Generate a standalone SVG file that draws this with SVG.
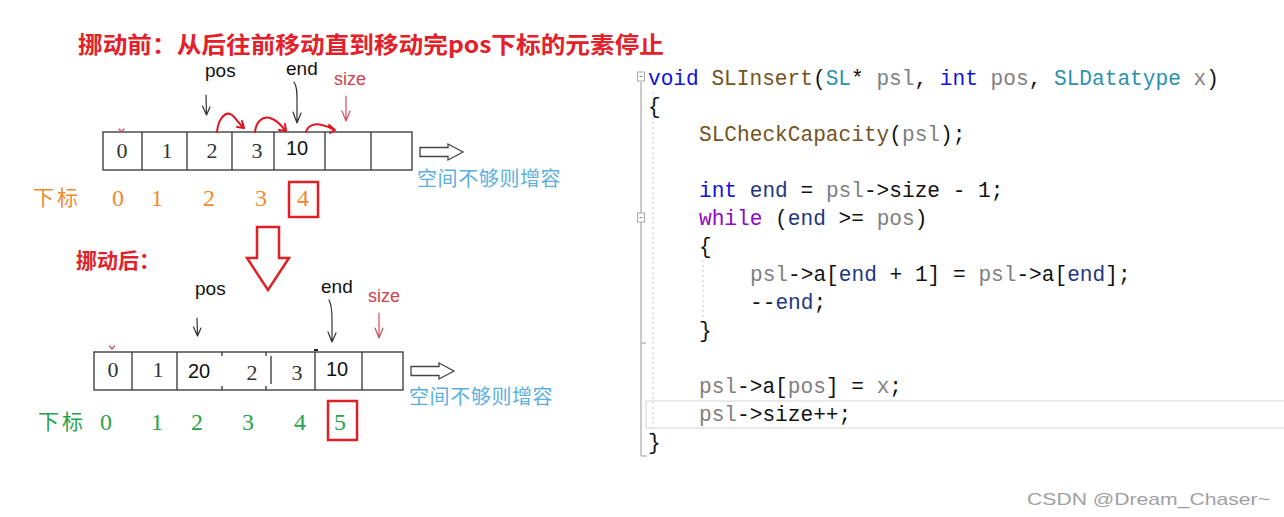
<svg xmlns="http://www.w3.org/2000/svg" width="1284" height="517" viewBox="0 0 1284 517">
<style>
.title{font-family:"Noto Sans CJK SC",sans-serif;font-weight:bold;fill:#e4202a;}
.lbl{font-family:"Liberation Sans",Arial,sans-serif;font-size:19px;fill:#111;}
.sz{font-family:"Liberation Sans",Arial,sans-serif;font-size:18px;fill:#d0404e;}
.cell{fill:#fff;stroke:#333;stroke-width:1.3;}
.div{stroke:#333;stroke-width:1.3;}
.sv{font-family:"Liberation Serif","Times New Roman",serif;font-size:22px;fill:#333;text-anchor:middle;}
.ss{font-family:"Liberation Sans",Arial,sans-serif;font-size:20px;fill:#111;text-anchor:middle;}
.idxo{font-family:"Liberation Serif",serif;font-size:24px;fill:#f08a2e;text-anchor:middle;}
.idxg{font-family:"Liberation Serif",serif;font-size:24px;fill:#27a24c;text-anchor:middle;}
.cjko{font-family:"Noto Sans CJK SC",sans-serif;font-size:21px;fill:#f08a2e;letter-spacing:3px;}
.cjkg{font-family:"Noto Sans CJK SC",sans-serif;font-size:21px;fill:#27a24c;letter-spacing:3px;}
.blue{font-family:"Noto Sans CJK SC",sans-serif;font-size:20px;fill:#5bb0e0;letter-spacing:0.6px;}
.hand{fill:none;stroke:#333;stroke-width:1.2;stroke-linecap:round;stroke-linejoin:round;}
.handr{fill:none;stroke:#d0505e;stroke-width:1.2;stroke-linecap:round;stroke-linejoin:round;}
.curve{fill:none;stroke:#e0141e;stroke-width:2;stroke-linecap:round;stroke-linejoin:round;}
.box{fill:none;stroke:#e02026;stroke-width:2.5;}
.hollow{fill:#fff;stroke:#444;stroke-width:1.3;}
.code{font-family:"Liberation Mono","DejaVu Sans Mono",monospace;font-size:21.15px;fill:#111;}
.kw{fill:#1010e0;}
.fn{fill:#74531f;}
.ty{fill:#2b91af;}
.pa{fill:#808080;}
.wh{fill:#8f08c4;}
.lv{fill:#1f377f;}
.guide{stroke:#c8c8c8;stroke-width:1;stroke-dasharray:2 3;}
</style>

<g id="title">
<text class="title" x="78" y="53" font-size="23" textLength="586" lengthAdjust="spacingAndGlyphs">挪动前：从后往前移动直到移动完pos下标的元素停止</text>
</g>

<g id="before-labels">
<text class="lbl" x="205" y="77">pos</text>
<text class="lbl" x="286" y="75">end</text>
<text class="sz" x="334" y="85">size</text>
</g>

<g id="before-array">
<rect class="cell" x="103" y="132" width="309" height="38"/>
<line class="div" x1="142" y1="132" x2="142" y2="170"/>
<line class="div" x1="187" y1="132" x2="187" y2="170"/>
<line class="div" x1="232" y1="132" x2="232" y2="170"/>
<line class="div" x1="274" y1="132" x2="274" y2="170"/>
<line class="div" x1="325" y1="132" x2="325" y2="170"/>
<line class="div" x1="371" y1="132" x2="371" y2="170"/>
<text class="sv" x="122" y="158">0</text>
<text class="sv" x="167" y="158">1</text>
<text class="sv" x="212" y="158">2</text>
<text class="sv" x="257" y="158">3</text>
<text class="ss" x="297" y="155">10</text>
<path class="handr" d="M119,129 L121.5,132 L124,129"/>
</g>

<g id="before-arrow-right">
<polygon class="hollow" points="420,147.5 448,147.5 448,144 463,152 448,160 448,156.5 420,156.5"/>
<text class="blue" x="417" y="186">空间不够则增容</text>
</g>

<g id="before-index">
<text class="cjko" x="33" y="205">下标</text>
<text class="idxo" x="118" y="206">0</text>
<text class="idxo" x="157" y="206">1</text>
<text class="idxo" x="209" y="206">2</text>
<text class="idxo" x="261" y="206">3</text>
<text class="idxo" x="303" y="206">4</text>
<rect class="box" x="289" y="182" width="29" height="35"/>
</g>

<g id="big-down-arrow">
<polygon points="257,227 279,227 279,258 289,258 268,290 247,258 257,258" fill="#fff" stroke="#e02026" stroke-width="2.5" stroke-linejoin="miter"/>
</g>

<g id="after-title">
<text class="title" x="76" y="268" font-size="21">挪动后：</text>
</g>

<g id="after-labels">
<text class="lbl" x="195" y="295">pos</text>
<text class="lbl" x="321" y="293">end</text>
<text class="sz" x="368" y="302">size</text>
</g>

<g id="after-array">
<rect class="cell" x="94" y="352" width="309" height="38"/>
<line class="div" x1="132" y1="352" x2="132" y2="390"/>
<line class="div" x1="177" y1="352" x2="177" y2="390"/>
<line class="div" x1="222" y1="352" x2="222" y2="356"/>
<line class="div" x1="222" y1="386" x2="222" y2="390"/>
<line class="div" x1="266" y1="352" x2="266" y2="356"/>
<line class="div" x1="266" y1="386" x2="266" y2="390"/>
<line class="div" x1="271" y1="356" x2="271" y2="384"/>
<line class="div" x1="315" y1="352" x2="315" y2="390"/>
<line x1="314" y1="350" x2="318" y2="350" stroke="#222" stroke-width="2"/>
<line class="div" x1="362" y1="352" x2="362" y2="390"/>
<text class="sv" x="113" y="377">0</text>
<text class="sv" x="158" y="377">1</text>
<text class="ss" x="199" y="378">20</text>
<text class="sv" x="252" y="380">2</text>
<text class="sv" x="297" y="380">3</text>
<text class="ss" x="337" y="376">10</text>
<path class="handr" d="M109.5,346 L112,349 L114.5,346"/>
</g>

<g id="after-arrow-right">
<polygon class="hollow" points="411,366.5 439,366.5 439,363 454,371 439,379 439,375.5 411,375.5"/>
<text class="blue" x="409" y="404">空间不够则增容</text>
</g>

<g id="after-index">
<text class="cjkg" x="38" y="429">下标</text>
<text class="idxg" x="106" y="430">0</text>
<text class="idxg" x="157" y="430">1</text>
<text class="idxg" x="197" y="430">2</text>
<text class="idxg" x="248" y="430">3</text>
<text class="idxg" x="300" y="430">4</text>
<text class="idxg" x="340" y="430">5</text>
<rect class="box" x="328" y="401" width="29" height="39"/>
</g>

<g id="connectors">
<path class="hand" d="M206,95 L206.5,115 M202.5,106 L206.5,115 L210,107"/>
<path class="hand" d="M294,82 C297,86 297,92 297,100 L297,123 M293,112 L297,123 L301,113"/>
<path class="handr" d="M346,96 L346,121 M342,111 L346,121 L350,111"/>
<path class="curve" d="M217,132 C218,120 225,110 232,115 C236,118 238,123 243,127 M237,127 L244,128 L242,121"/>
<path class="curve" d="M255,132 C256,122 262,116 270,118 C277,120 281,125 285,130 M279,130 L286,131 L285,124"/>
<path class="curve" d="M306,132 C308,125 315,123 322,125 C327,126 331,128 334,130 M329,125 L335,130 L330,133"/>
<path class="hand" d="M197,318 L197.5,336 M193.5,327 L197.5,336 L201,328"/>
<path class="hand" d="M329,300 C332,305 332,312 332,320 L332,342 M328,332 L332,342 L336,333"/>
<path class="handr" d="M379,313 L379,338 M375,328 L379,338 L383,328"/>
</g>

<g id="code">
<line x1="641" y1="82" x2="641" y2="456" stroke="#a8a8a8" stroke-width="1.2"/>
<line x1="641" y1="456" x2="647" y2="456" stroke="#a8a8a8" stroke-width="1.2"/>
<line x1="641" y1="343" x2="646" y2="343" stroke="#a8a8a8" stroke-width="1.2"/>
<rect x="637.5" y="72" width="7" height="9" fill="#fff" stroke="#a8a8a8" stroke-width="1"/>
<line x1="639.5" y1="76.5" x2="642.5" y2="76.5" stroke="#888" stroke-width="1"/>
<rect x="637.5" y="213" width="7" height="9" fill="#fff" stroke="#a8a8a8" stroke-width="1"/>
<line x1="639.5" y1="217.5" x2="642.5" y2="217.5" stroke="#888" stroke-width="1"/>
<line class="guide" x1="653" y1="92" x2="653" y2="440"/>
<line class="guide" x1="703" y1="260" x2="703" y2="318"/>
<rect x="646" y="401" width="640" height="27" fill="none" stroke="#e2e2e2" stroke-width="1.5"/>
<text class="code" x="648" y="85"><tspan class="kw">void</tspan> <tspan class="fn">SLInsert</tspan>(<tspan class="ty">SL</tspan>* <tspan class="pa">psl</tspan>, <tspan class="kw">int</tspan> <tspan class="pa">pos</tspan>, <tspan class="ty">SLDatatype</tspan> <tspan class="pa">x</tspan>)</text>
<text class="code" x="648" y="113">{</text>
<text class="code" x="699" y="141"><tspan class="fn">SLCheckCapacity</tspan>(<tspan class="pa">psl</tspan>);</text>
<text class="code" x="699" y="197"><tspan class="kw">int</tspan> <tspan class="lv">end</tspan> = <tspan class="pa">psl</tspan>-&gt;size - 1;</text>
<text class="code" x="699" y="225"><tspan class="wh">while</tspan> (<tspan class="lv">end</tspan> &gt;= <tspan class="pa">pos</tspan>)</text>
<text class="code" x="699" y="253">{</text>
<text class="code" x="750" y="281"><tspan class="pa">psl</tspan>-&gt;a[<tspan class="lv">end</tspan> + 1] = <tspan class="pa">psl</tspan>-&gt;a[<tspan class="lv">end</tspan>];</text>
<text class="code" x="750" y="309">--<tspan class="lv">end</tspan>;</text>
<text class="code" x="699" y="337">}</text>
<text class="code" x="699" y="393"><tspan class="pa">psl</tspan>-&gt;a[<tspan class="pa">pos</tspan>] = <tspan class="pa">x</tspan>;</text>
<text class="code" x="699" y="421"><tspan class="pa">psl</tspan>-&gt;size++;</text>
<text class="code" x="648" y="449">}</text>
</g>

<g id="watermark">
<text x="1027" y="505" font-family="Liberation Sans,Arial,sans-serif" font-size="17" fill="#a0a0a0" textLength="243" lengthAdjust="spacingAndGlyphs">CSDN @Dream_Chaser~</text>
</g>
</svg>
